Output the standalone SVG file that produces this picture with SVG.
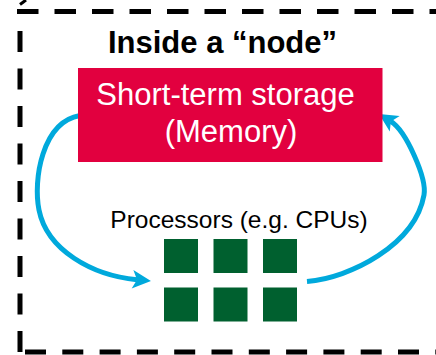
<svg xmlns="http://www.w3.org/2000/svg" width="436" height="355" viewBox="0 0 436 355">
  <style>
    .frame { fill: none; stroke: #000; stroke-width: 5; }
    .flow { fill: none; stroke: #00A9DC; stroke-width: 5; }
    .cpu { fill: #00602F; }
    .title { font-family: "Liberation Sans", Arial, sans-serif; font-weight: bold; font-size: 31px; fill: #000; }
    .mem { font-family: "Liberation Sans", Arial, sans-serif; font-size: 31px; fill: #fff; }
    .label { font-family: "Liberation Sans", Arial, sans-serif; font-size: 24.5px; fill: #000; }
  </style>
  <defs>
    <marker id="head" markerUnits="userSpaceOnUse" markerWidth="20" markerHeight="20" refX="4.5" refY="9.25" orient="auto" overflow="visible">
      <path d="M0,0 L18.5,9.25 L0,18.5 L4.5,9.25 Z" fill="#00A9DC"/>
    </marker>
  </defs>

  <rect width="436" height="355" fill="#fff"/>

  <!-- dashed outline of the node -->
  <g id="node-frame">
    <line class="frame" x1="17" y1="11.5" x2="440" y2="11.5" stroke-dasharray="21.5 16"/>
    <line class="frame" x1="20" y1="31" x2="20" y2="352" stroke-dasharray="21 16.5"/>
    <line class="frame" x1="25" y1="352" x2="440" y2="352" stroke-dasharray="21 16.3"/>
    <line x1="20" y1="4.5" x2="26" y2="0" stroke="#000" stroke-width="3"/>
  </g>

  <!-- data flow between memory and processors -->
  <g id="connectors">
    <path class="flow" d="M80,115.5 C42,122 33,180 39,210 C47,250 92,275.5 137,279.7" marker-end="url(#head)"/>
    <path class="flow" d="M307,281.5 C350,278 415,245 424,195 C427,178 406,131 390.9,121.4" marker-end="url(#head)"/>
  </g>

  <g id="title">
    <text class="title" x="222.5" y="53" text-anchor="middle">Inside a “node”</text>
  </g>

  <g id="memory">
    <rect x="78" y="68" width="304.5" height="94" fill="#E2003F"/>
    <text class="mem" x="225.5" y="105" text-anchor="middle">Short-term storage</text>
    <text class="mem" x="231" y="141.5" text-anchor="middle">(Memory)</text>
  </g>

  <g id="processors">
    <text class="label" x="239" y="228" text-anchor="middle">Processors (e.g. CPUs)</text>
    <rect class="cpu" x="164" y="239" width="34" height="34"/>
    <rect class="cpu" x="213.5" y="239" width="34" height="34"/>
    <rect class="cpu" x="263" y="239" width="34" height="34"/>
    <rect class="cpu" x="164" y="287.5" width="34" height="34"/>
    <rect class="cpu" x="213.5" y="287.5" width="34" height="34"/>
    <rect class="cpu" x="263" y="287.5" width="34" height="34"/>
  </g>
</svg>
